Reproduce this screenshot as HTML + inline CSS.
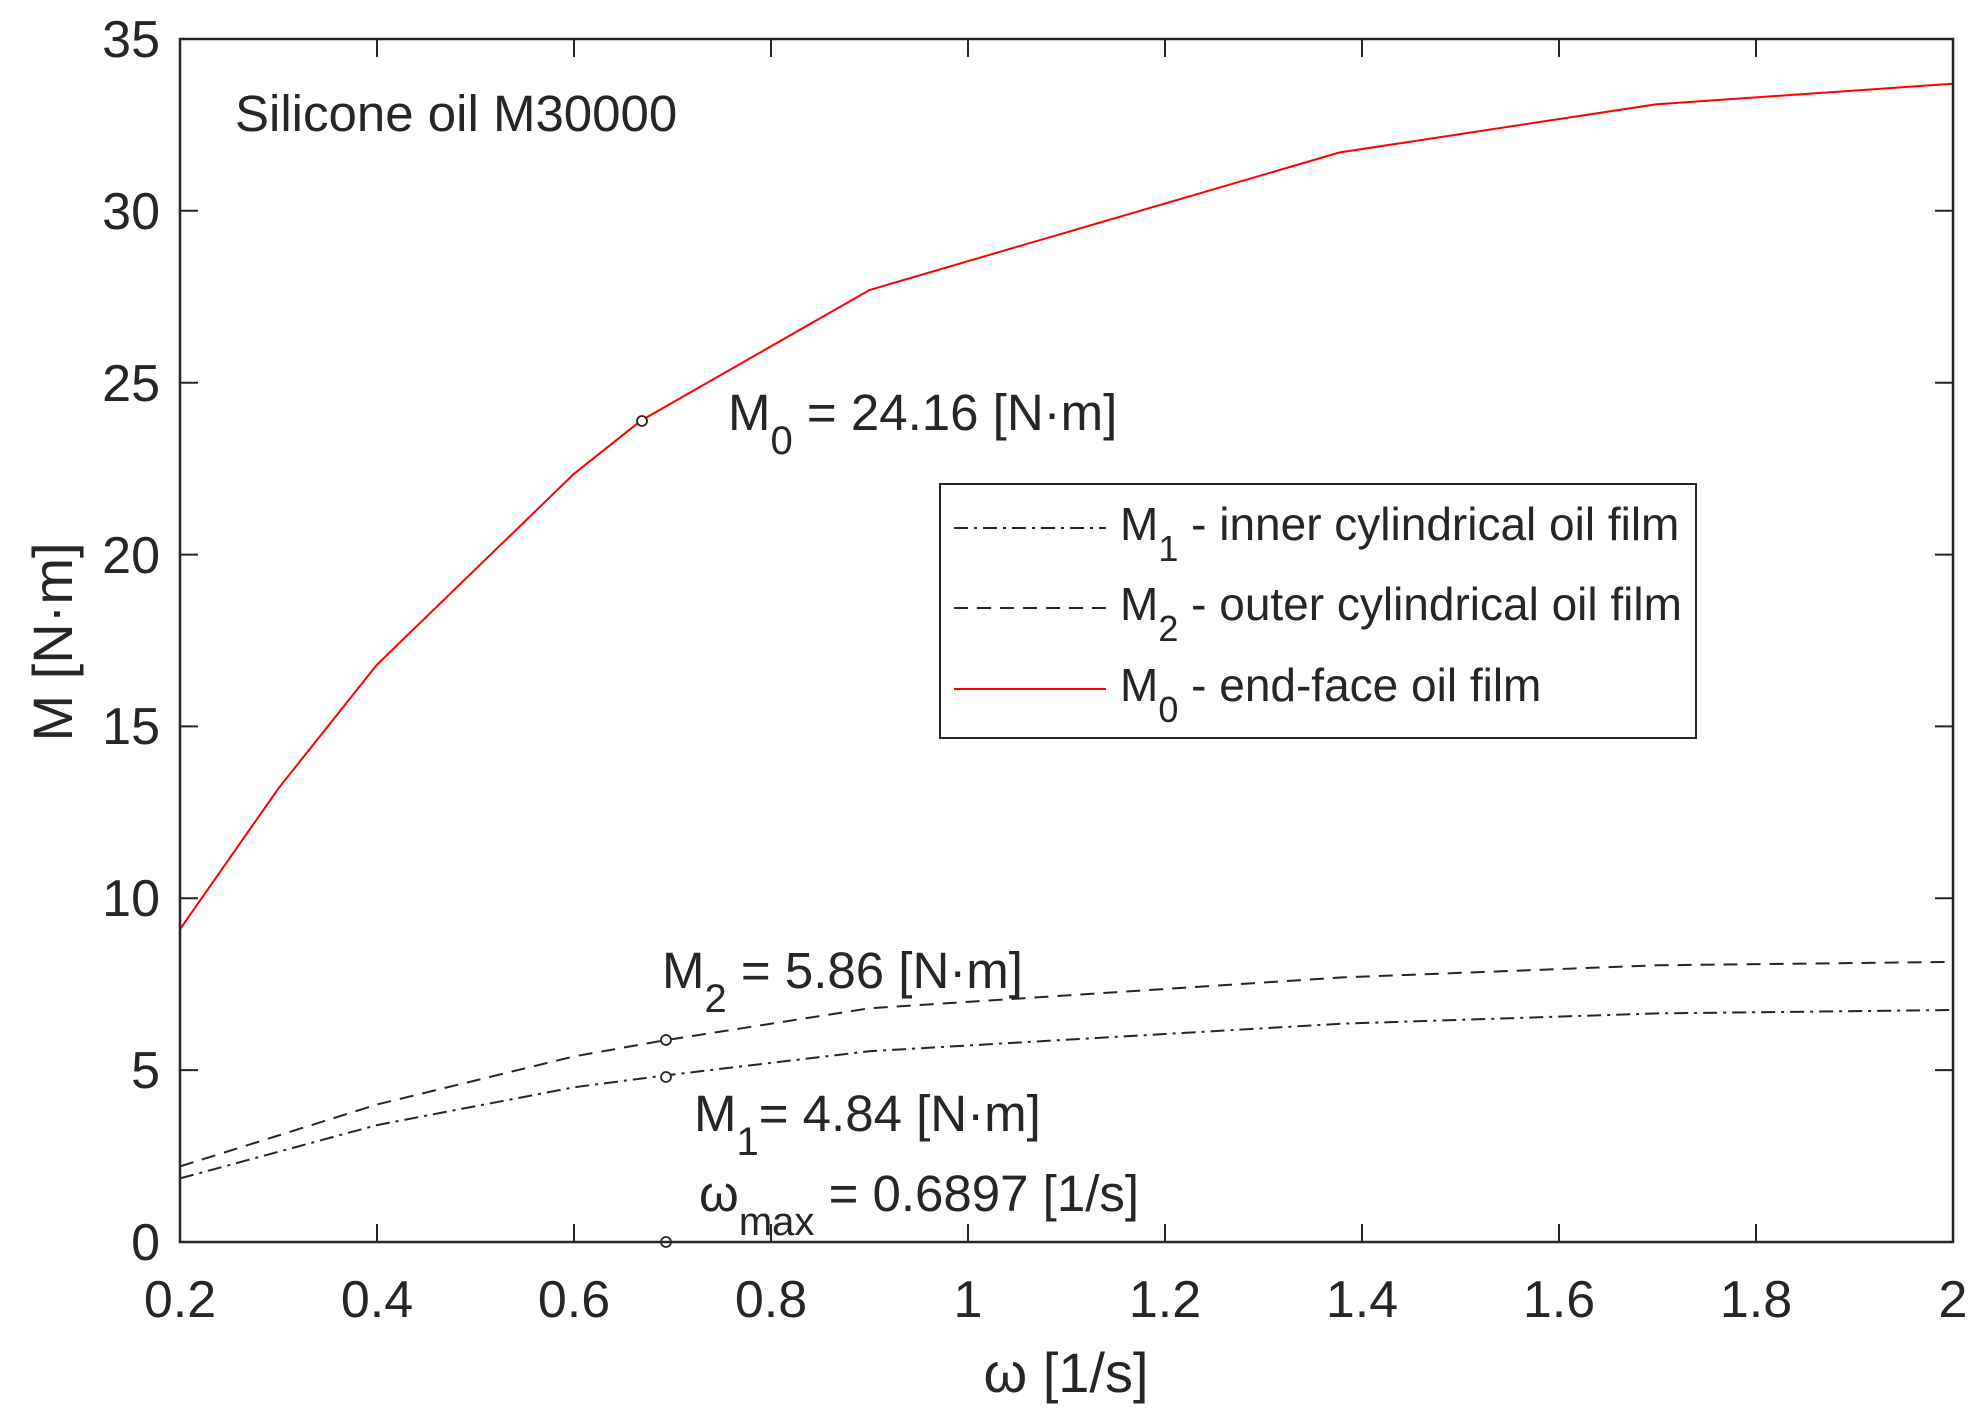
<!DOCTYPE html>
<html><head><meta charset="utf-8"><style>
html,body{margin:0;padding:0;background:#fff;}
svg{display:block;}
text{font-family:"Liberation Sans",Arial,sans-serif;fill:#262626;}
</style></head><body>
<svg width="1982" height="1426" viewBox="0 0 1982 1426" xmlns="http://www.w3.org/2000/svg">
<rect width="1982" height="1426" fill="#fff"/>
<polyline fill="none" stroke="#ff0000" stroke-width="2" points="180,929.2 278.5,788.3 377,664.6 574,473.8 641,420.6 869.5,290 1339.3,152.5 1655.5,104.4 1953,83.7"/>
<polyline fill="none" stroke="#262626" stroke-width="2" stroke-dasharray="14,9" points="180,1166.4 377,1104.5 574,1056.4 663,1040.6 869.5,1008.3 1342,977.4 1657.5,965.3 1953,961.9"/>
<polyline fill="none" stroke="#262626" stroke-width="2" stroke-dasharray="14,6,3,6" points="180,1178.4 377,1125.1 574,1087.3 663,1075.7 869.5,1051.2 1342,1023.7 1657.5,1013.4 1953,1010"/>
<g fill="#fff" stroke="#262626" stroke-width="1.8">
<circle cx="642" cy="421" r="5"/><circle cx="666" cy="1040" r="5"/><circle cx="666" cy="1077" r="5"/><circle cx="666" cy="1242" r="5"/>
</g>
<rect x="180" y="39" width="1773" height="1203" fill="none" stroke="#262626" stroke-width="2.5"/>
<g stroke="#262626" stroke-width="2">
<path d="M180,1070.1h18M180,898.3h18M180,726.4h18M180,554.6h18M180,382.7h18M180,210.8h18
M1953,1070.1h-18M1953,898.3h-18M1953,726.4h-18M1953,554.6h-18M1953,382.7h-18M1953,210.8h-18
M377,1242v-18M574,1242v-18M771,1242v-18M968,1242v-18M1165,1242v-18M1362,1242v-18M1559,1242v-18M1756,1242v-18
M377,39v18M574,39v18M771,39v18M968,39v18M1165,39v18M1362,39v18M1559,39v18M1756,39v18"/>
</g>
<g font-size="52" text-anchor="end">
<text x="160" y="1260">0</text><text x="160" y="1088">5</text><text x="160" y="916">10</text><text x="160" y="744">15</text>
<text x="160" y="573">20</text><text x="160" y="401">25</text><text x="160" y="229">30</text><text x="160" y="57">35</text>
</g>
<g font-size="52" text-anchor="middle">
<text x="180" y="1317">0.2</text><text x="377" y="1317">0.4</text><text x="574" y="1317">0.6</text><text x="771" y="1317">0.8</text>
<text x="968" y="1317">1</text><text x="1165" y="1317">1.2</text><text x="1362" y="1317">1.4</text><text x="1559" y="1317">1.6</text>
<text x="1756" y="1317">1.8</text><text x="1953" y="1317">2</text>
</g>
<text x="1066" y="1392" font-size="56" text-anchor="middle">ω [1/s]</text>
<text transform="translate(72,642) rotate(-90)" font-size="56" text-anchor="middle">M [N·m]</text>
<text x="235" y="131" font-size="51">Silicone oil M30000</text>
<text x="728" y="430" font-size="51">M<tspan font-size="40" dy="24">0</tspan><tspan dy="-24"> = 24.16 [N·m]</tspan></text>
<text x="662" y="988" font-size="51">M<tspan font-size="40" dy="24">2</tspan><tspan dy="-24"> = 5.86 [N·m]</tspan></text>
<text x="694" y="1131" font-size="51">M<tspan font-size="40" dy="24">1</tspan><tspan dy="-24">= 4.84 [N·m]</tspan></text>
<text x="699" y="1211" font-size="51">ω<tspan font-size="40" dy="24">max</tspan><tspan dy="-24"> = 0.6897 [1/s]</tspan></text>
<rect x="940" y="484" width="756" height="254" fill="#fff" stroke="#262626" stroke-width="2"/>
<line x1="954" y1="528" x2="1106" y2="528" stroke="#262626" stroke-width="2" stroke-dasharray="14,6,3,6"/>
<line x1="954" y1="608" x2="1106" y2="608" stroke="#262626" stroke-width="2" stroke-dasharray="14,9"/>
<line x1="954" y1="689" x2="1106" y2="689" stroke="#ff0000" stroke-width="2"/>
<g font-size="46">
<text x="1120" y="540">M<tspan font-size="36" dy="21">1</tspan><tspan dy="-21"> - inner cylindrical oil film</tspan></text>
<text x="1120" y="620">M<tspan font-size="36" dy="21">2</tspan><tspan dy="-21"> - outer cylindrical oil film</tspan></text>
<text x="1120" y="701">M<tspan font-size="36" dy="21">0</tspan><tspan dy="-21"> - end-face oil film</tspan></text>
</g>
</svg>
</body></html>
